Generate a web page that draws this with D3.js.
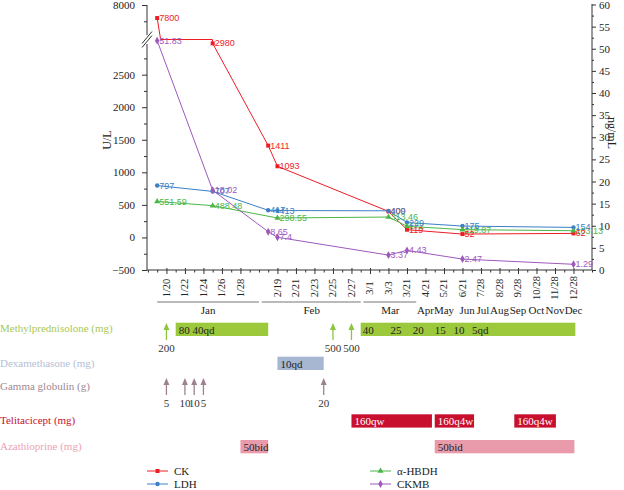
<!DOCTYPE html>
<html>
<head>
<meta charset="utf-8">
<script src="https://cdn.jsdelivr.net/npm/d3@7"></script>
<style>
  body { margin: 0; background: #fff; }
  svg text { font-family: "Liberation Serif", "DejaVu Serif", serif; }
  .val { font-family: "Liberation Sans", Arial, sans-serif; font-size: 9px; }
</style>
</head>
<body>
<div id="chart"></div>
<script>
"use strict";

// category axis: one slot per minor tick, labels sit on some slots
const tickLabels = ["1/20", "1/22", "1/24", "1/26", "1/28", "2/19", "2/21", "2/23", "2/25", "2/27",
  "3/1", "3/3", "3/21", "4/21", "5/21", "6/21", "7/28", "8/28", "9/28", "10/28", "11/28", "12/28"];
const tickSlots = [0, 2, 4, 6, 8, 12, 14, 16, 18, 20, 22, 24, 26, 28, 30, 32, 34, 36, 38, 40, 42, 44];
const monthNames = ["Jan", "Feb", "Mar", "Apr", "May", "Jun", "Jul", "Aug", "Sep", "Oct", "Nov", "Dec"];
const monthSlots = [4.5, 15.7, 24.2, 28, 30, 32.5, 34.2, 36, 38, 40, 42, 44];
const bracketFrom = [-1, 10.3, 21.3];
const bracketTo = [10, 21, 27];

// lab values (U/L on left axis, CKMB ng/mL on right axis)
const ckSlots = [-1, 5, 11, 12, 24, 26, 32, 44];
const ckValues = [7800, 2980, 1411, 1093, 400, 119, 52, 62];
const ldhSlots = [-1, 5, 11, 12, 24, 26, 32, 44];
const ldhValues = [797, 707, 417, 413, 409, 229, 175, 154];
const hbdhSlots = [-1, 5, 12, 24, 26, 32, 44];
const hbdhValues = [551.59, 488.48, 298.55, 313.46, 172, 119.87, 103.13];
const ckmbSlots = [-1, 5, 11, 12, 24, 26, 32, 44];
const ckmbValues = [51.83, 18.02, 8.65, 7.4, 3.37, 4.43, 2.47, 1.29];

// treatments
const methylArrowSlots = [0, 18, 20];
const methylArrowDose = ["200", "500", "500"];
const methylBarFrom = [1, 21];
const methylBarTo = [11, 44.2];
const methylBarText = ["80 40qd", ""];
const methylTaperText = ["40", "25", "20", "15", "10", "5qd"];
const methylTaperSlots = [21, 24, 26.4, 28.8, 30.8, 32.8];
const dexBarFrom = [12];
const dexBarTo = [17];
const dexBarText = ["10qd"];
const gammaArrowSlots = [0, 2, 3, 4, 17];
const gammaArrowDose = ["5", "10", "10", "5", "20"];
const teliBarFrom = [20, 29, 37.6];
const teliBarTo = [28.7, 33.25, 42.1];
const teliBarText = ["160qw", "160q4w", "160q4w"];
const azaBarFrom = [8, 29];
const azaBarTo = [11, 44.1];
const azaBarText = ["50bid", "50bid"];

const svgWidth = 624;
const svgHeight = 490;
const plotLeft = 147;
const plotRight = 592;
const plotTop = 5;
const plotBottom = 270;
const breakY = 39.5;

const svg = d3.select("#chart")
  .append("svg")
  .attr("width", svgWidth)
  .attr("height", svgHeight)
;

const x = d3.scaleLinear().domain([-2.1, 46]).range([plotLeft, plotRight]);
const yLower = d3.scaleLinear().domain([-500, 3000]).range([plotBottom, 42.1]);
const yUpper = d3.scaleLinear().domain([7500, 8000]).range([37.6, plotTop]);
const yRight = d3.scaleLinear().domain([0, 60]).range([plotBottom, 4.5]);
const yLeft = v => v >= 7500 ? yUpper(v) : yLower(v);

// ---- axes ----
const axisColor = "#333";
const styleAxis = g => {
  g.select(".domain").remove();
  g.selectAll("line").attr("stroke", axisColor);
  g.selectAll("text").attr("fill", "#222").style("font-size", "11px")
    .style("font-family", "'Liberation Serif', serif");
};

svg.append("g").attr("transform", `translate(${plotLeft},0)`)
  .call(d3.axisLeft(yLower).tickValues(d3.range(-500, 2501, 500)).tickSize(5).tickPadding(7).tickFormat(d3.format("d")))
  .call(styleAxis);
svg.append("g").attr("transform", `translate(${plotLeft},0)`)
  .call(d3.axisLeft(yLower).tickValues(d3.range(-250, 2751, 500)).tickSize(3).tickFormat(""))
  .call(styleAxis);
svg.append("g").attr("transform", `translate(${plotLeft},0)`)
  .call(d3.axisLeft(yUpper).tickValues([8000]).tickSize(5).tickPadding(7).tickFormat(d3.format("d")))
  .call(styleAxis);
svg.append("g").attr("transform", `translate(${plotLeft},0)`)
  .call(d3.axisLeft(yUpper).tickValues([7750]).tickSize(3).tickFormat(""))
  .call(styleAxis);

svg.append("line").attr("x1", plotLeft).attr("x2", plotLeft).attr("y1", plotTop).attr("y2", 35)
  .attr("stroke", axisColor);
svg.append("line").attr("x1", plotLeft).attr("x2", plotLeft).attr("y1", 44).attr("y2", plotBottom)
  .attr("stroke", axisColor);
// break marks
[-2, 2].forEach(o => {
  svg.append("line")
    .attr("x1", plotLeft - 5).attr("y1", breakY + o + 6)
    .attr("x2", plotLeft + 5).attr("y2", breakY + o - 6)
    .attr("stroke", axisColor).attr("stroke-width", 1);
});

svg.append("g").attr("transform", `translate(${plotRight},0)`)
  .call(d3.axisRight(yRight).tickValues(d3.range(0, 61, 5)).tickSize(4).tickPadding(3))
  .call(styleAxis);
svg.append("g").attr("transform", `translate(${plotRight},0)`)
  .call(d3.axisRight(yRight).tickValues(d3.range(2.5, 60, 5)).tickSize(2).tickFormat(""))
  .call(styleAxis);
svg.append("line").attr("x1", plotRight).attr("x2", plotRight).attr("y1", 4).attr("y2", plotBottom)
  .attr("stroke", axisColor);

svg.append("text")
  .attr("transform", `translate(107,140) rotate(-90)`)
  .attr("text-anchor", "middle")
  .attr("dominant-baseline", "central")
  .style("font-size", "12px")
  .attr("fill", "#222")
  .text("U/L");
svg.append("text")
  .attr("transform", `translate(612,133) rotate(90)`)
  .attr("text-anchor", "middle")
  .attr("dominant-baseline", "central")
  .style("font-size", "12px")
  .attr("fill", "#222")
  .text("ng/mL");

// x axis
svg.append("line").attr("x1", plotLeft).attr("x2", plotRight).attr("y1", plotBottom).attr("y2", plotBottom)
  .attr("stroke", axisColor);
const minorSlots = d3.range(-2, 47).filter(s => !tickSlots.includes(s));
svg.append("g").attr("transform", `translate(0,${plotBottom})`)
  .call(d3.axisBottom(x).tickValues(minorSlots).tickSize(2.5).tickFormat(""))
  .call(styleAxis);
const xMajor = svg.append("g").attr("transform", `translate(0,${plotBottom})`)
  .call(d3.axisBottom(x).tickValues(tickSlots).tickSize(4).tickFormat(""))
  .call(styleAxis);
xMajor.selectAll(".tick line").attr("y1", -2);

svg.append("g").selectAll("text")
  .data(tickSlots)
  .enter()
  .append("text")
  .attr("transform", d => `translate(${x(d)},288) rotate(-90)`)
  .attr("text-anchor", "middle")
  .attr("dominant-baseline", "central")
  .style("font-size", "10.5px")
  .attr("fill", "#222")
  .text((d, i) => tickLabels[i])
;

svg.append("g").selectAll("line")
  .data(bracketFrom)
  .enter()
  .append("line")
  .attr("x1", d => x(d))
  .attr("x2", (d, i) => x(bracketTo[i]))
  .attr("y1", 302).attr("y2", 302)
  .attr("stroke", "#777").attr("stroke-width", 1.2)
;
svg.append("g").selectAll("text")
  .data(monthSlots)
  .enter()
  .append("text")
  .attr("x", d => x(d))
  .attr("y", 314)
  .attr("text-anchor", "middle")
  .style("font-size", "11px")
  .attr("fill", "#222")
  .text((d, i) => monthNames[i])
;

// ---- series ----
const buildPoints = (slots, values, yFn, broken) => {
  const pts = [];
  slots.forEach((s, i) => {
    if (broken && i > 0 && values[i - 1] >= 7500 && values[i] <= 3000) {
      const a = values[i - 1], b = values[i], sa = slots[i - 1];
      const t1 = (a - 7500) / (a - b);
      const t2 = (a - 3000) / (a - b);
      pts.push([x(sa + t1 * (s - sa)), breakY]);
      pts.push([x(sa + t2 * (s - sa)), breakY]);
    }
    pts.push([x(s), yFn(values[i])]);
  });
  return pts;
};

const series = [
  { name: "CK", slots: ckSlots, values: ckValues, color: "#ee1c25", symbol: d3.symbolSquare, size: 16, y: yLeft, broken: true },
  { name: "LDH", slots: ldhSlots, values: ldhValues, color: "#3b80c6", symbol: d3.symbolCircle, size: 15, y: yLeft, broken: true },
  { name: "α-HBDH", slots: hbdhSlots, values: hbdhValues, color: "#4cb748", symbol: d3.symbolTriangle, size: 16, y: yLeft, broken: true },
  { name: "CKMB", slots: ckmbSlots, values: ckmbValues, color: "#9e59bd", symbol: d3.symbolDiamond, size: 18, y: yRight, broken: false }
];

const line = d3.line();
series.forEach(s => {
  svg.append("path")
    .attr("d", line(buildPoints(s.slots, s.values, s.y, s.broken)))
    .attr("fill", "none")
    .attr("stroke", s.color)
    .attr("stroke-width", 1)
  ;
});

series.forEach(s => {
  svg.append("g").selectAll("path")
    .data(s.values)
    .enter()
    .append("path")
    .attr("d", d3.symbol().type(s.symbol).size(s.size))
    .attr("transform", (d, i) => `translate(${x(s.slots[i])},${s.y(d)})`)
    .attr("fill", s.color)
  ;
});

// value labels, drawn in the overlap order seen in the figure
[2, 0, 1, 3].forEach(k => {
  const s = series[k];
  svg.append("g").selectAll("text")
    .data(s.values)
    .enter()
    .append("text")
    .attr("class", "val")
    .attr("x", (d, i) => x(s.slots[i]) + 2)
    .attr("y", d => s.y(d))
    .attr("dominant-baseline", "central")
    .attr("fill", s.color)
    .text(d => String(d))
  ;
});

// ---- treatments ----
const rowLabels = [
  { text: "Methylprednisolone (mg)", color: "#a6c956", y: 328 },
  { text: "Dexamethasone (mg)", color: "#b3bfd6", y: 363 },
  { text: "Gamma globulin (g)", color: "#a08894", y: 386 },
  { text: "Telitacicept (mg)", color: "#c8102e", y: 420 },
  { text: "Azathioprine (mg)", color: "#eda2b4", y: 446 }
];
svg.append("g").selectAll("text")
  .data(rowLabels)
  .enter()
  .append("text")
  .attr("x", 0)
  .attr("y", d => d.y)
  .attr("dominant-baseline", "central")
  .style("font-size", "11px")
  .attr("fill", d => d.color)
  .text(d => d.text)
;

const drawBars = (from, to, texts, y0, fill, textColor) => {
  const g = svg.append("g");
  g.selectAll("rect")
    .data(from)
    .enter()
    .append("rect")
    .attr("x", d => x(d))
    .attr("width", (d, i) => x(to[i]) - x(d))
    .attr("y", y0)
    .attr("height", 13.3)
    .attr("fill", fill)
  ;
  g.selectAll("text")
    .data(from)
    .enter()
    .append("text")
    .attr("x", d => x(d) + 3)
    .attr("y", y0 + 6.8)
    .attr("dominant-baseline", "central")
    .style("font-size", "11px")
    .attr("fill", textColor)
    .text((d, i) => texts[i])
  ;
};

const drawArrows = (slots, doses, tipY, color) => {
  const g = svg.append("g");
  slots.forEach((s, i) => {
    const cx = x(s);
    g.append("line")
      .attr("x1", cx).attr("x2", cx)
      .attr("y1", tipY + 5).attr("y2", tipY + 17)
      .attr("stroke", color).attr("stroke-width", 1.3);
    g.append("path")
      .attr("d", `M${cx},${tipY} L${cx - 3},${tipY + 7} L${cx + 3},${tipY + 7} Z`)
      .attr("fill", color);
    g.append("text")
      .attr("x", cx)
      .attr("y", tipY + 25)
      .attr("text-anchor", "middle")
      .attr("dominant-baseline", "central")
      .style("font-size", "11px")
      .attr("fill", "#333")
      .text(doses[i]);
  });
};

drawArrows(methylArrowSlots, methylArrowDose, 323, "#8cc63f");
drawBars(methylBarFrom, methylBarTo, methylBarText, 322.7, "#9cc93c", "#222");
svg.append("g").selectAll("text")
  .data(methylTaperSlots)
  .enter()
  .append("text")
  .attr("x", d => x(d) + 2)
  .attr("y", 329.5)
  .attr("dominant-baseline", "central")
  .style("font-size", "11px")
  .attr("fill", "#222")
  .text((d, i) => methylTaperText[i])
;
drawBars(dexBarFrom, dexBarTo, dexBarText, 356.7, "#a7b7d1", "#222");
drawArrows(gammaArrowSlots, gammaArrowDose, 378, "#9e8290");
drawBars(teliBarFrom, teliBarTo, teliBarText, 414.3, "#c8102e", "#fff");
drawBars(azaBarFrom, azaBarTo, azaBarText, 440, "#e99aab", "#222");

// ---- legend ----
const legendPos = [[147, 471], [147, 484], [370, 471], [370, 484]];
series.forEach((s, i) => {
  const [lx, ly] = legendPos[i];
  svg.append("line")
    .attr("x1", lx).attr("x2", lx + 21)
    .attr("y1", ly).attr("y2", ly)
    .attr("stroke", s.color).attr("stroke-width", 1);
  svg.append("path")
    .attr("d", d3.symbol().type(s.symbol).size(s.size))
    .attr("transform", `translate(${lx + 10.5},${ly})`)
    .attr("fill", s.color);
  svg.append("text")
    .attr("x", lx + 27)
    .attr("y", ly)
    .attr("dominant-baseline", "central")
    .style("font-size", "11px")
    .attr("fill", "#222")
    .text(s.name);
});
</script>
</body>
</html>
